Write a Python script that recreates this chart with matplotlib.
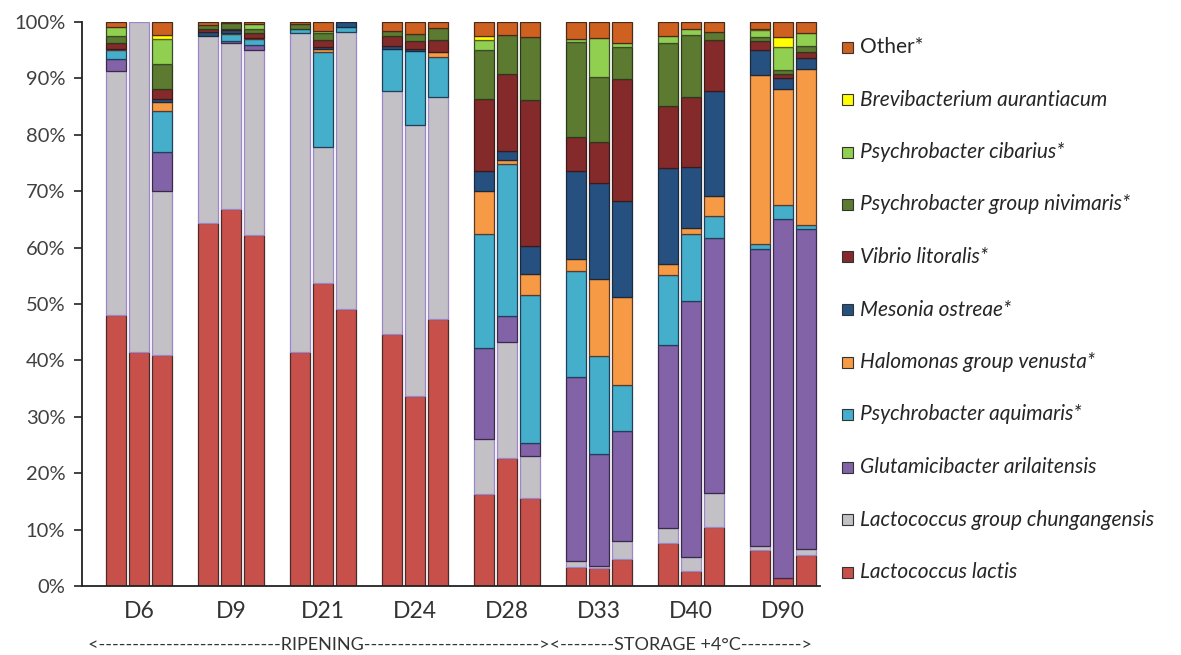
import numpy as np
import matplotlib
matplotlib.use('Agg')
import matplotlib.pyplot as plt
from matplotlib.patches import Rectangle

plt.rcParams['font.family'] = ['Lato', 'DejaVu Sans']

days = ['D6', 'D9', 'D21', 'D24', 'D28', 'D33', 'D40', 'D90']

# relative abundance (%) per bar, 3 replicates per day, bottom -> top
lactis = [48.0, 41.5, 41.0, 64.3, 66.8, 61.8, 41.5, 53.7, 49.2, 44.6, 33.5, 47.0,
          16.3, 22.6, 15.5, 3.3, 3.1, 4.7, 7.6, 2.7, 10.3, 6.4, 1.5, 5.5]
chungangensis = [43.3, 58.5, 29.0, 33.2, 29.4, 32.6, 56.5, 24.1, 49.1, 43.0, 47.8, 39.0,
                 9.7, 20.4, 7.4, 1.2, 0.5, 3.3, 2.6, 2.4, 6.1, 0.6, 0.0, 1.0]
arilaitensis = [2.1, 0, 7.0, 0, 0.5, 0.9, 0, 0, 0, 0, 0, 0,
                16.0, 4.7, 2.4, 32.5, 19.8, 19.5, 32.4, 45.3, 44.9, 52.6, 63.9, 56.7]
aquimaris = [1.6, 0, 7.2, 0, 1.1, 1.1, 0.8, 16.9, 0.8, 7.6, 13.0, 7.0,
             20.1, 26.7, 26.0, 18.7, 17.3, 8.0, 12.4, 11.8, 3.9, 0.9, 2.5, 0.8]
venusta = [0.3, 0, 1.6, 0, 0.2, 0.2, 0, 0.5, 0, 0, 0, 0.9,
           7.6, 0.8, 3.7, 2.2, 13.7, 15.7, 1.9, 1.2, 3.5, 29.9, 20.6, 27.6]
ostreae = [0, 0, 0.5, 0.8, 0.5, 0, 0, 0.4, 0.9, 0.4, 0.5, 0,
           3.5, 1.5, 4.9, 15.6, 16.9, 17.0, 17.0, 10.8, 18.5, 4.5, 2.1, 2.0]
litoralis = [1.0, 0, 1.9, 0.5, 0.3, 0.9, 0, 1.2, 0, 1.8, 1.3, 2.2,
             12.8, 13.6, 25.8, 5.9, 7.3, 21.6, 11.0, 12.4, 8.9, 1.5, 0.6, 1.0]
nivimaris = [1.2, 0, 4.4, 0.7, 1.0, 0.7, 0.9, 1.3, 0, 0.9, 1.3, 2.1,
             8.7, 6.9, 11.1, 16.8, 11.4, 5.5, 11.2, 10.9, 1.4, 0.7, 0.8, 1.1]
cibarius = [1.7, 0, 4.3, 0, 0, 0.8, 0, 0.3, 0, 0, 0, 0,
            1.8, 0, 0, 0.6, 6.9, 0.8, 1.3, 1.0, 0, 1.2, 4.0, 2.3]
aurantiacum = [0, 0, 0.8, 0, 0, 0, 0, 0, 0, 0, 0, 0,
               0.7, 0, 0, 0, 0, 0, 0, 0, 0, 0.3, 1.8, 0]
other = [0.8, 0, 2.3, 0.5, 0.2, 0.4, 0.3, 1.6, 0, 1.6, 2.1, 1.0,
         2.4, 2.3, 2.7, 3.0, 2.9, 3.7, 2.4, 1.3, 1.8, 1.2, 2.7, 1.9]

series = [lactis, chungangensis, arilaitensis, aquimaris, venusta, ostreae,
          litoralis, nivimaris, cibarius, aurantiacum, other]
labels = ['Lactococcus lactis', 'Lactococcus group chungangensis',
          'Glutamicibacter arilaitensis', 'Psychrobacter aquimaris*',
          'Halomonas group venusta*', 'Mesonia ostreae*', 'Vibrio litoralis*',
          'Psychrobacter group nivimaris*', 'Psychrobacter cibarius*',
          'Brevibacterium aurantiacum', 'Other*']
colors = ['#c8504b', '#c3c1c6', '#8363a8', '#45aecb', '#f79a45', '#25507f',
          '#852a2b', '#5d7a31', '#91cf50', '#ffff00', '#cf6120']
edges = ['#4a2a2a', '#9b86c8', '#3a2a4a', '#1f3f5a', '#5a3a2a', '#1a2a3a',
         '#3a1a1a', '#2a3a1a', '#3a4a2a', '#5a5a1a', '#4a2a1a']

data = np.array(series, dtype=float)
data = data / data.sum(axis=0) * 100  # 100% stacked

x = np.array([g * 4 + i for g in range(len(days)) for i in range(3)])

fig = plt.figure(figsize=(11.81, 6.55), dpi=100)
W, H = 1181, 655
ax = fig.add_axes([82 / W, 69 / H, (820 - 82) / W, (586 - 22) / H])

bottom = np.zeros(len(x))
for vals, c, ec in zip(data, colors, edges):
    lw = np.where(vals > 0, 0.9, 0.0)
    ax.bar(x, vals, width=0.87, bottom=bottom, color=c, edgecolor=ec,
           linewidth=lw, zorder=2)
    bottom += vals

ax.set_xlim(-1.48, 30.6)
ax.set_ylim(0, 100)
ax.set_yticks(np.arange(0, 101, 10))
ax.set_yticklabels([f'{v}%' for v in range(0, 101, 10)], fontsize=14.5, color='#404040')
ax.tick_params(axis='y', direction='out', length=6, width=1.2, color='#222222', pad=6)
ax.set_xticks([])
for s in ['top', 'right']:
    ax.spines[s].set_visible(False)
ax.spines['left'].set_linewidth(1.3)
ax.spines['bottom'].set_linewidth(1.3)
ax.spines['left'].set_color('#222222')
ax.spines['bottom'].set_color('#222222')

# day labels under each group
for g, d in enumerate(days):
    ax.text(g * 4 + 1, -4.6, d, ha='center', va='center', fontsize=16.5, color='#333333')

fig.text(88 / W, 1 - 645 / H,
         '<' + '-' * 27 + 'RIPENING' + '-' * 26 + '><' + '-' * 8 + 'STORAGE +4°C' + '-' * 9 + '>',
         ha='left', va='center', fontsize=13, color='#333333')

# legend, top entry first
for i, k in enumerate(range(len(labels) - 1, -1, -1)):
    yc = 47 + 52.5 * i
    fig.patches.append(Rectangle((842 / W, 1 - (yc + 5.5) / H), 11 / W, 11 / H,
                                 transform=fig.transFigure, facecolor=colors[k],
                                 edgecolor='#333333', linewidth=0.8))
    fig.text(860 / W, 1 - yc / H, labels[k], ha='left', va='center', fontsize=15,
             color='#262626', style='normal' if labels[k] == 'Other*' else 'italic')

fig.savefig('out.png', dpi=100)
